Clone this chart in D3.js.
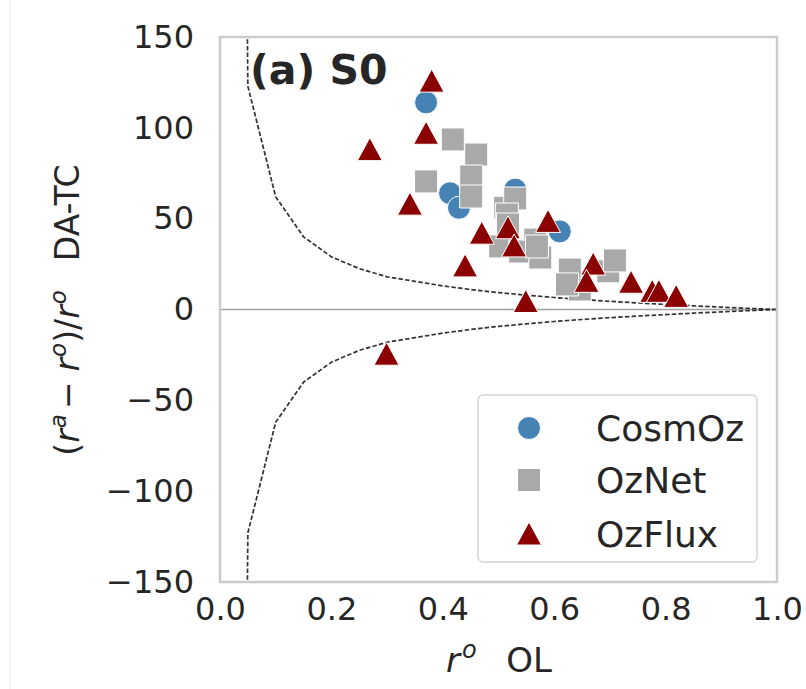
<!DOCTYPE html>
<html>
<head>
<meta charset="utf-8">
<script src="https://cdn.jsdelivr.net/npm/d3@7"></script>
<style>
  html, body { margin: 0; padding: 0; background: #fff; }
  svg { display: block; font-family: "DejaVu Sans", sans-serif; }
</style>
</head>
<body>
<svg id="chart" width="806" height="689"></svg>
<script>
// ---------------- data ----------------
const xTicks = [0.0, 0.2, 0.4, 0.6, 0.8, 1.0];
const yTicks = [150, 100, 50, 0, -50, -100, -150];
const seriesNames = ["CosmOz", "OzNet", "OzFlux"];

const cosmozX = [0.370, 0.413, 0.429, 0.530, 0.610];
const cosmozY = [114, 64, 56, 66, 43];

const oznetX = [0.418, 0.460, 0.370, 0.451, 0.451, 0.512, 0.530, 0.515, 0.517, 0.566, 0.503, 0.539, 0.575, 0.569, 0.628, 0.646, 0.697, 0.709, 0.623];
const oznetY = [93.6, 85.3, 70.5, 73.2, 62.2, 56, 61.1, 52.3, 46.8, 38.5, 34.7, 31.9, 28.6, 34.7, 22, 11, 21, 27, 13.8];

const ozfluxX = [0.380, 0.370, 0.269, 0.341, 0.470, 0.517, 0.528, 0.589, 0.440, 0.670, 0.658, 0.738, 0.776, 0.788, 0.819, 0.549, 0.299];
const ozfluxY = [125.7, 97, 88, 58, 42, 45, 35, 48.5, 24, 25, 15.5, 15, 10, 10, 7.2, 4.4, -24.6];

const curveX = [0.045, 0.05, 0.10, 0.15, 0.20, 0.25, 0.30, 0.35, 0.40, 0.45, 0.50, 0.55, 0.60, 0.65, 0.70, 0.75, 0.80, 0.85, 0.90, 0.95, 1.00];
const upperY = [300, 123, 62, 40, 29, 22.5, 18, 15.5, 13, 11, 9.3, 7.9, 6.6, 5.5, 4.5, 3.6, 2.8, 2.0, 1.3, 0.6, 0];
const lowerY = [-300, -123, -62, -40, -29, -22.5, -18, -15.5, -13, -11, -9.3, -7.9, -6.6, -5.5, -4.5, -3.6, -2.8, -2.0, -1.3, -0.6, 0];

// ---------------- layout ----------------
const L = 220, T = 37, W = 557, H = 545;
const svg = d3.select("#chart");
const x = d3.scaleLinear().domain([0, 1]).range([L, L + W]);
const y = d3.scaleLinear().domain([-150, 150]).range([T + H, T]);
const textColor = "#262626";

// faint border line at far left (screenshot edge)
svg.append("line").attr("x1", 10).attr("x2", 10).attr("y1", 0).attr("y2", 689)
  .attr("stroke", "#ececec").attr("stroke-width", 1);

svg.append("defs").append("clipPath").attr("id", "plotclip")
  .append("rect").attr("x", L).attr("y", T).attr("width", W).attr("height", H);

// zero line
svg.append("line").attr("x1", L).attr("x2", L + W).attr("y1", y(0)).attr("y2", y(0))
  .attr("stroke", "#a0a0a0").attr("stroke-width", 1.5);

// dashed curves
const line = d3.line().x(d => x(d[0])).y(d => y(d[1]));
const gCurves = svg.append("g").attr("clip-path", "url(#plotclip)");
[upperY, lowerY].forEach(arr => {
  gCurves.append("path")
    .attr("d", line(curveX.map((v, i) => [v, arr[i]])))
    .attr("fill", "none").attr("stroke", "#333").attr("stroke-width", 1.7)
    .attr("stroke-dasharray", "4.5,2.2");
});

// markers
const shapes = {
  circle: "M0,-11.5A11.5,11.5 0 1,1 0,11.5A11.5,11.5 0 1,1 0,-11.5Z",
  square: "M-11.5,-11.5H11.5V11.5H-11.5Z",
  triangle: "M0,-12L12.5,11L-12.5,11Z"
};
const colors = { CosmOz: "#4682b4", OzNet: "#a9a9a9", OzFlux: "#8b0000" };
const shapeOf = { CosmOz: "circle", OzNet: "square", OzFlux: "triangle" };

function drawSeries(name, xs, ys) {
  svg.append("g").selectAll("path").data(xs.map((v, i) => [v, ys[i]])).enter()
    .append("path")
    .attr("d", shapes[shapeOf[name]])
    .attr("transform", d => `translate(${x(d[0])},${y(d[1])})`)
    .attr("fill", colors[name]).attr("stroke", "#fff").attr("stroke-width", 1);
}
drawSeries("CosmOz", cosmozX, cosmozY);
drawSeries("OzNet", oznetX, oznetY);
drawSeries("OzFlux", ozfluxX, ozfluxY);

// frame
svg.append("rect").attr("x", L).attr("y", T).attr("width", W).attr("height", H)
  .attr("fill", "none").attr("stroke", "#cccccc").attr("stroke-width", 2.5);

// axes (tick labels only)
const xAxis = svg.append("g").attr("transform", `translate(0,${T + H})`)
  .call(d3.axisBottom(x).tickValues(xTicks).tickFormat(d3.format(".1f")).tickSize(0).tickPadding(15));
const yAxis = svg.append("g").attr("transform", `translate(${L},0)`)
  .call(d3.axisLeft(y).tickValues(yTicks).tickFormat(d => d < 0 ? "\u2212" + Math.abs(d) : d).tickSize(0).tickPadding(26));
[xAxis, yAxis].forEach(g => {
  g.select(".domain").remove();
  g.selectAll("text").attr("font-size", 32).attr("fill", textColor)
    .attr("font-family", "DejaVu Sans, sans-serif");
});

// panel title
svg.append("text").attr("x", 250).attr("y", 84).text("(a) S0")
  .attr("font-size", 41).attr("font-weight", "bold").attr("fill", textColor);

// x label
const xl = svg.append("text").attr("x", 499).attr("y", 672).attr("text-anchor", "middle")
  .attr("font-size", 34).attr("fill", textColor);
xl.append("tspan").attr("font-style", "italic").text("r");
xl.append("tspan").attr("font-size", 24).attr("dy", -14).attr("dx", 2).attr("font-style", "italic").text("o");
xl.append("tspan").attr("dy", 14).attr("dx", 8).text("\u00a0\u00a0OL");

// y label
const yl = svg.append("text").attr("transform", "translate(79,310) rotate(-90)")
  .attr("text-anchor", "middle").attr("font-size", 33).attr("fill", textColor);
yl.append("tspan").text("(");
yl.append("tspan").attr("font-style", "italic").text("r");
yl.append("tspan").attr("font-size", 23).attr("dy", -13).attr("dx", 1).attr("font-style", "italic").text("a");
yl.append("tspan").attr("dy", 13).attr("dx", 5).text("\u2212");
yl.append("tspan").attr("dx", 10).attr("font-style", "italic").text("r");
yl.append("tspan").attr("font-size", 23).attr("dy", -13).attr("dx", 1).attr("font-style", "italic").text("o");
yl.append("tspan").attr("dy", 13).text(")/");
yl.append("tspan").attr("font-style", "italic").text("r");
yl.append("tspan").attr("font-size", 23).attr("dy", -13).attr("dx", 1).attr("font-style", "italic").text("o");
yl.append("tspan").attr("dy", 13).attr("dx", 8).text("\u00a0\u00a0DA-TC");

// legend
const lg = svg.append("g");
lg.append("rect").attr("x", 478).attr("y", 395).attr("width", 279).attr("height", 167)
  .attr("rx", 5).attr("fill", "#fff").attr("fill-opacity", 0.85)
  .attr("stroke", "#d5d5d5").attr("stroke-width", 1.5);
const legendY = [428, 480, 534];
seriesNames.forEach((name, i) => {
  lg.append("path").attr("d", shapes[shapeOf[name]])
    .attr("transform", `translate(529,${legendY[i]})`)
    .attr("fill", colors[name]).attr("stroke", "#fff").attr("stroke-width", 1);
  lg.append("text").attr("x", 596).attr("y", legendY[i]).attr("dy", "0.36em")
    .attr("font-size", 36).attr("fill", textColor).text(name);
});
</script>
</body>
</html>
